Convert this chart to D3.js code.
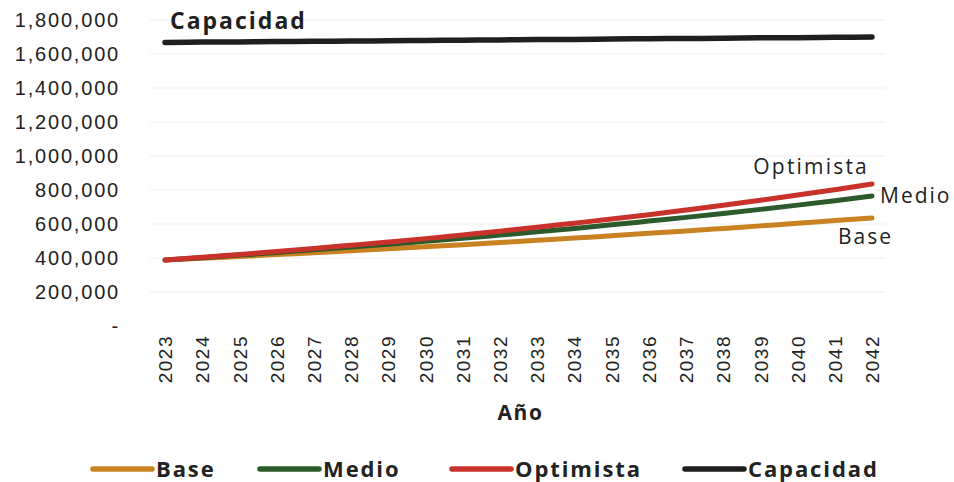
<!DOCTYPE html>
<html>
<head>
<meta charset="utf-8">
<script src="https://cdn.jsdelivr.net/npm/d3@7"></script>
<style>
  html, body { margin: 0; padding: 0; background: #fff; }
  svg { display: block; font-family: "Open Sans", "Noto Sans", sans-serif; }
</style>
</head>
<body>
<svg id="chart" width="954" height="482"></svg>
<script>
// Años proyectados
const years = [2023, 2024, 2025, 2026, 2027, 2028, 2029, 2030, 2031, 2032,
               2033, 2034, 2035, 2036, 2037, 2038, 2039, 2040, 2041, 2042];

// Escenarios de demanda
const base = [388000, 398000, 409000, 420000, 431000, 442000, 454000, 466000, 478000, 491000,
              504000, 517000, 531000, 545000, 559000, 574000, 589000, 604000, 620000, 635000];
const medio = [388000, 402000, 417000, 432000, 448000, 464000, 481000, 498000, 516000, 535000,
               554000, 574000, 595000, 617000, 639000, 662000, 686000, 711000, 737000, 765000];
const optimista = [388000, 404000, 421000, 438000, 456000, 475000, 494000, 514000, 536000, 558000,
                   581000, 605000, 629000, 655000, 682000, 710000, 740000, 770000, 802000, 835000];
const capacidad = [1668000, 1670000, 1671000, 1673000, 1675000, 1676000, 1678000, 1680000, 1681000, 1683000,
                   1685000, 1686000, 1688000, 1690000, 1691000, 1693000, 1695000, 1696000, 1698000, 1700000];

const yTicks = [0, 200000, 400000, 600000, 800000, 1000000, 1200000, 1400000, 1600000, 1800000];

const series = [
  { name: "Base", values: base, color: "#c98222" },
  { name: "Medio", values: medio, color: "#2d5a2a" },
  { name: "Optimista", values: optimista, color: "#c9312b" },
  { name: "Capacidad", values: capacidad, color: "#1f1f1f" }
];

const svg = d3.select("#chart");
const margin = { left: 165, right: 82, top: 20, bottom: 156 };
const W = 954, H = 482;

const x = d3.scalePoint().domain(years).range([margin.left, W - margin.right]);
const y = d3.scaleLinear().domain([0, 1800000]).range([H - margin.bottom, margin.top]);

const fmt = d => d === 0 ? "-" : d3.format(",")(d);

// Líneas de cuadrícula
svg.append("g")
  .selectAll("line")
  .data(yTicks.slice(1))
  .join("line")
  .attr("x1", 150).attr("x2", 885)
  .attr("y1", d => y(d)).attr("y2", d => y(d))
  .attr("stroke", "#efefef").attr("stroke-width", 1);

// Eje Y
const yAxis = svg.append("g")
  .attr("transform", `translate(120,0)`)
  .call(d3.axisLeft(y).tickValues(yTicks).tickFormat(fmt).tickSize(0).tickPadding(0));
yAxis.select(".domain").remove();
yAxis.selectAll("text")
  .attr("fill", "#222")
  .style("font-size", "20px")
  .style("letter-spacing", "1.8px");

// Eje X
const xAxis = svg.append("g")
  .attr("transform", `translate(0,${H - margin.bottom})`)
  .call(d3.axisBottom(x).tickSize(0).tickPadding(0));
xAxis.select(".domain").remove();
xAxis.selectAll("text")
  .attr("fill", "#222")
  .attr("transform", "rotate(-90)")
  .attr("text-anchor", "end")
  .attr("x", -9)
  .attr("y", 0)
  .attr("dy", "0.35em")
  .style("font-size", "19px")
  .style("letter-spacing", "1.5px");

svg.append("text")
  .attr("x", (x(2032) + x(2033)) / 2 + 2)
  .attr("y", 420)
  .attr("text-anchor", "middle")
  .attr("fill", "#222")
  .style("font-size", "21px")
  .style("font-weight", "700")
  .style("letter-spacing", "1.5px")
  .text("Año");

// Series
const line = d3.line()
  .x((d, i) => x(years[i]))
  .y(d => y(d))
  .curve(d3.curveMonotoneX);

svg.append("g")
  .selectAll("path")
  .data(series)
  .join("path")
  .attr("d", d => line(d.values))
  .attr("fill", "none")
  .attr("stroke", d => d.color)
  .attr("stroke-width", d => d.name === "Capacidad" ? 5.5 : 5)
  .attr("stroke-linecap", "round");

// Etiquetas de serie
const last = years[years.length - 1];
svg.append("text")
  .attr("x", x(2023) + 5).attr("y", y(capacidad[0]) - 13)
  .attr("fill", "#1f1f1f")
  .style("font-size", "23px").style("font-weight", "700").style("letter-spacing", "2px")
  .text("Capacidad");
svg.append("text")
  .attr("x", x(last) - 3).attr("y", y(optimista[19]) - 10)
  .attr("text-anchor", "end").attr("fill", "#222")
  .style("font-size", "21px").style("letter-spacing", "2.2px")
  .text("Optimista");
svg.append("text")
  .attr("x", x(last) + 8).attr("y", y(medio[19]) + 7)
  .attr("fill", "#222")
  .style("font-size", "21px").style("letter-spacing", "2px")
  .text("Medio");
svg.append("text")
  .attr("x", x(last) - 34).attr("y", y(base[19]) + 26)
  .attr("fill", "#222")
  .style("font-size", "21px").style("letter-spacing", "2px")
  .text("Base");

// Leyenda
const legendX = [93, 260, 452, 685];
const lg = svg.append("g")
  .selectAll("g")
  .data(series)
  .join("g")
  .attr("transform", (d, i) => `translate(${legendX[i]},469)`);
lg.append("line")
  .attr("x1", 0).attr("x2", 59).attr("y1", 0).attr("y2", 0)
  .attr("stroke", d => d.color).attr("stroke-width", 5.5).attr("stroke-linecap", "round");
lg.append("text")
  .attr("x", 63).attr("y", 8)
  .attr("fill", "#222")
  .style("font-size", "22px").style("font-weight", "700").style("letter-spacing", "1.9px")
  .text(d => d.name);
</script>
</body>
</html>
